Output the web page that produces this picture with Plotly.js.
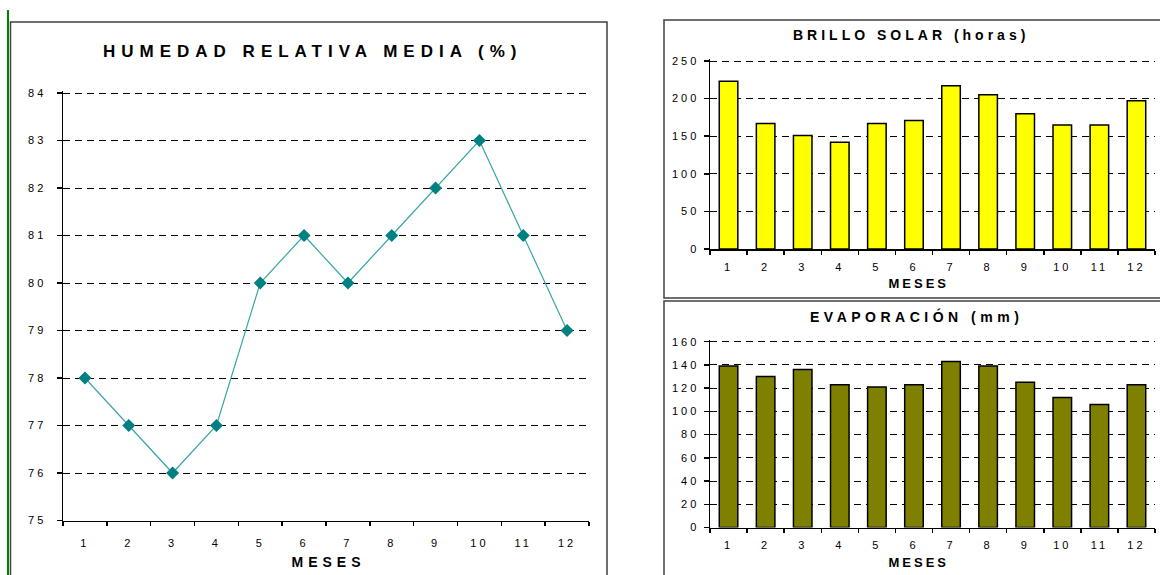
<!DOCTYPE html>
<html>
<head>
<meta charset="utf-8">
<script src="https://cdn.plot.ly/plotly-3.0.1.min.js"></script>
<style>
  html, body { margin: 0; padding: 0; background: #fff; }
  #chart { width: 1160px; height: 575px; }
  /* wide, spaced lettering for tick labels and headings */
  g[class$="tick"] > text { letter-spacing: 3px; }
  .annotation[data-index="0"] text { letter-spacing: 6px; }
  .annotation[data-index="1"] text { letter-spacing: 5px; }
  .annotation[data-index="2"] text { letter-spacing: 4px; }
  .annotation[data-index="3"] text { letter-spacing: 3px; }
  .annotation[data-index="4"] text { letter-spacing: 4.5px; }
  .annotation[data-index="5"] text { letter-spacing: 3px; }
</style>
</head>
<body>
<div id="chart"></div>
<script>
// Monthly climate summary: mean relative humidity, sunshine hours and evaporation
const meses = ['1', '2', '3', '4', '5', '6', '7', '8', '9', '10', '11', '12'];
const humedadRelativa = [78, 77, 76, 77, 80, 81, 80, 81, 82, 83, 81, 79];
const brilloSolar = [223, 167, 151, 142, 167, 171, 217, 205, 180, 165, 165, 197];
const evaporacion = [139, 130, 136, 123, 121, 123, 143, 139, 125, 112, 106, 123];

const W = 1160, H = 575;
const px = x => x / W;          // pixel -> paper x
const py = y => 1 - y / H;      // pixel -> paper y

const tickFont = { family: 'Liberation Sans, Arial, sans-serif', size: 11, color: '#000' };
const titleFont = { family: 'Liberation Sans, Arial, sans-serif', size: 17, color: '#000', weight: 700 };
const subTitleFont = { family: 'Liberation Sans, Arial, sans-serif', size: 14, color: '#000', weight: 700 };
const mesesFont = { family: 'Liberation Sans, Arial, sans-serif', size: 13, color: '#000', weight: 700 };
const dash = '7px,5px';

// category axis with ticks on the month boundaries
function xAxis(domain, anchor, standoff) {
  return {
    domain: domain, anchor: anchor, type: 'category',
    categoryorder: 'array', categoryarray: meses, range: [-0.5, 11.5],
    tickson: 'boundaries', ticks: 'outside', ticklen: 4, tickwidth: 1.5, tickcolor: '#000',
    showline: true, linecolor: '#000', linewidth: 1.5,
    showgrid: false, zeroline: false, tickfont: tickFont,
    ticklabelstandoff: standoff, fixedrange: true
  };
}
// short inner ticks so the boundary ticks cross the axis line
function crossTicks(over, anchor) {
  return {
    overlaying: over, anchor: anchor, range: [0, 12], tickmode: 'array',
    tickvals: [0, 1, 2, 3, 4, 5, 6, 7, 8, 9, 10, 11, 12],
    ticks: 'inside', ticklen: 3, tickwidth: 1.5, tickcolor: '#000',
    showticklabels: false, showline: false, showgrid: false, zeroline: false, fixedrange: true
  };
}
// value axis; the top is nudged 2px so the last dashed gridline is kept
function yAxis(pixBottom, pixTop, anchor, lo, hi, dtick, standoff) {
  const pad = 2 * (hi - lo) / (pixBottom - pixTop);
  return {
    domain: [py(pixBottom), py(pixTop - 2)], anchor: anchor, range: [lo, hi + pad], dtick: dtick,
    ticks: 'outside', ticklen: 5, tickwidth: 1.5, tickcolor: '#000',
    showline: true, linecolor: '#000', linewidth: 1.5,
    showgrid: true, gridcolor: '#000', gridwidth: 1, griddash: dash,
    zeroline: false, tickfont: tickFont, ticklabelstandoff: standoff, fixedrange: true
  };
}

const traces = [
  {
    type: 'scatter', mode: 'lines+markers', x: meses, y: humedadRelativa,
    xaxis: 'x', yaxis: 'y',
    line: { color: '#3aa5a5', width: 1.2 },
    marker: { symbol: 'diamond', size: 10, color: '#008080' }
  },
  {
    type: 'bar', x: meses, y: brilloSolar, xaxis: 'x2', yaxis: 'y2', width: 0.5,
    marker: { color: '#ffff00', line: { color: '#000', width: 1.5 } }
  },
  {
    type: 'bar', x: meses, y: evaporacion, xaxis: 'x3', yaxis: 'y3', width: 0.5,
    marker: { color: '#808000', line: { color: '#000', width: 1.5 } }
  }
];

const leftX = [px(63), px(589)];
const rightX = [px(710), px(1155)];

const layout = {
  width: W, height: H,
  margin: { l: 0, r: 0, t: 0, b: 0 },
  paper_bgcolor: '#fff', plot_bgcolor: 'rgba(0,0,0,0)',
  showlegend: false,
  xaxis: xAxis(leftX, 'y', 12),
  yaxis: yAxis(520.5, 93, 'x', 75, 84, 1, 8),
  xaxis2: xAxis(rightX, 'y2', 7),
  yaxis2: yAxis(249, 61, 'x2', 0, 250, 50, 2),
  xaxis3: xAxis(rightX, 'y3', 7),
  yaxis3: yAxis(527.5, 341.7, 'x3', 0, 160, 20, 2),
  xaxis4: crossTicks('x', 'y'),
  xaxis5: crossTicks('x2', 'y2'),
  xaxis6: crossTicks('x3', 'y3'),
  shapes: [
    { type: 'line', xref: 'paper', yref: 'paper', x0: px(8), x1: px(8), y0: py(10), y1: py(580), line: { color: '#008000', width: 2 } },
    { type: 'rect', xref: 'paper', yref: 'paper', x0: px(10.5), x1: px(607), y0: py(22), y1: py(585), line: { color: '#404040', width: 1.5 } },
    { type: 'rect', xref: 'paper', yref: 'paper', x0: px(664), x1: px(1170), y0: py(20), y1: py(298), line: { color: '#404040', width: 1.5 } },
    { type: 'rect', xref: 'paper', yref: 'paper', x0: px(664), x1: px(1170), y0: py(301), y1: py(585), line: { color: '#404040', width: 1.5 } }
  ],
  annotations: [
    { text: 'HUMEDAD RELATIVA MEDIA (%)', xref: 'paper', yref: 'paper', x: px(312.5), y: py(51), showarrow: false, font: titleFont, xanchor: 'center', yanchor: 'middle' },
    { text: 'MESES', xref: 'paper', yref: 'paper', x: px(328.5), y: py(562), showarrow: false, font: subTitleFont, xanchor: 'center', yanchor: 'middle' },
    { text: 'BRILLO SOLAR (horas)', xref: 'paper', yref: 'paper', x: px(911), y: py(35), showarrow: false, font: subTitleFont, xanchor: 'center', yanchor: 'middle' },
    { text: 'MESES', xref: 'paper', yref: 'paper', x: px(918.5), y: py(283), showarrow: false, font: mesesFont, xanchor: 'center', yanchor: 'middle' },
    { text: 'EVAPORACIÓN (mm)', xref: 'paper', yref: 'paper', x: px(916), y: py(316), showarrow: false, font: subTitleFont, xanchor: 'center', yanchor: 'middle' },
    { text: 'MESES', xref: 'paper', yref: 'paper', x: px(918.5), y: py(562), showarrow: false, font: mesesFont, xanchor: 'center', yanchor: 'middle' }
  ]
};

Plotly.newPlot('chart', traces, layout, { displayModeBar: false, staticPlot: true });
</script>
</body>
</html>
